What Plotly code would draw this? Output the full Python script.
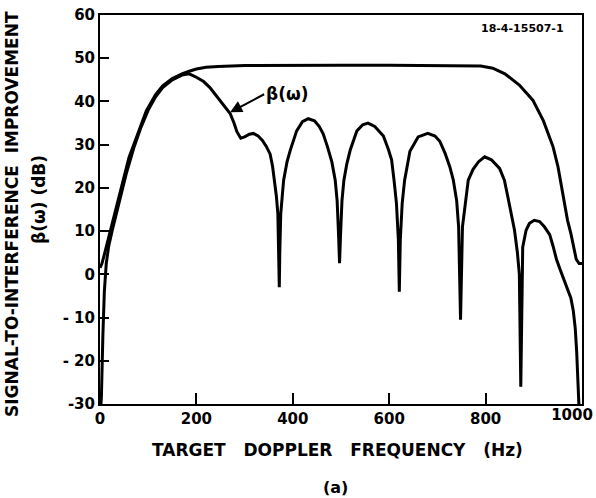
import plotly.graph_objects as go

# beta(omega) curve (Hz, dB)
freq_beta = [0, 3, 6, 9, 13, 18, 25, 33, 40, 55, 70, 85, 100, 115, 130, 150, 170, 185,
             200, 215, 228, 245, 260, 270, 278, 284, 292, 300, 310, 318, 328, 337, 345,
             353, 358, 362, 366, 369, 371, 372, 373, 375, 378, 381, 388, 395, 408, 420,
             432, 445, 455, 463, 472, 481, 488, 492, 495, 497, 499, 502, 506, 512, 519,
             533, 545, 556, 570, 588, 598, 605, 610, 615, 619, 621, 623, 627, 632, 643,
             660, 680, 695, 705, 716, 726, 733, 740, 744, 748, 752, 757, 764, 774, 785,
             798, 812, 829, 839, 846, 853, 860, 866, 870, 873, 875, 877, 884, 891, 901,
             912, 922, 933, 940, 947, 955, 962, 970, 977, 982, 986, 989, 992, 995]
beta_db = [-34, -28, -14, -4, 2.5, 6.5, 10, 13.5, 17, 23.5, 29.2, 34, 38, 41, 43.2, 45, 46.1, 46.4,
           45.6, 44.6, 43.2, 40.8, 38.6, 37.2, 35, 33, 31.5, 31.8, 32.4, 32.6, 32.0, 31, 29.6,
           27.8, 25, 21.8, 18, 14, 5, -3, 5, 14, 18, 21.8, 26, 28.8, 33.2, 35.3,
           36, 35.5, 34.2, 32.5, 29.5, 26, 21.8, 17, 9, 2.6, 9, 17, 21.8, 25.5, 28.7,
           33.2, 34.6, 35, 34.2, 32, 29, 26.5, 21.8, 16.5, 8, -4, 8, 16.5, 21.8, 28.5,
           31.8, 32.6, 32, 30.8, 28, 24.8, 21.8, 17, 11, -10.5, 11, 15, 21.8, 24.3, 26,
           27.2, 26.5, 24.5, 21.8, 18, 14, 10.2, 5, 0, -26, -3, 6.3, 10.2, 11.8, 12.5,
           12.2, 11, 9.2, 6.5, 3.5, 1, -1, -3.2, -5.5, -8.5, -12.5, -18, -26, -34]

# upper (optimum) curve (Hz, dB)
freq_env = [0, 4, 10, 20, 30, 38, 50, 60, 70, 85, 96, 115, 130, 150, 170, 185, 200, 220, 245,
            300, 400, 500, 600, 700, 790, 815, 840, 870, 898, 920, 940, 950, 960, 970, 977,
            983, 988, 994, 1000]
env_db = [1.5, 2.5, 5, 9.5, 13.5, 17.1, 23, 27, 30, 34.5, 37.8, 41.5, 43.6, 45.3, 46.4, 47, 47.5,
          47.9, 48.1, 48.3, 48.4, 48.4, 48.4, 48.3, 48.2, 47.7, 46.4, 43.8, 40.3, 35.5, 29.5,
          25, 19, 12.5, 9.4, 6, 3.5, 2.5, 2.5]

x_ticks = [0, 200, 400, 600, 800]
x_tick_text = ["0", "200", "400", "600", "800"]
x_end_tick = [1000]
x_end_text = ["1000"]
y_ticks = [-30, -20, -10, 0, 10, 20, 30, 40, 50, 60]
y_tick_text = ["-30", "- 20", "- 10", "0", "10", "20", "30", "40", "50", "60"]

FONT = "DejaVu Sans"
TICKFONT = dict(family=FONT, size=15, weight="bold", color="black")

fig = go.Figure()
fig.add_trace(go.Scatter(x=freq_env, y=env_db, mode="lines",
                         line=dict(color="black", width=3), showlegend=False))
fig.add_trace(go.Scatter(x=freq_beta, y=beta_db, mode="lines",
                         line=dict(color="black", width=3), showlegend=False))
# empty trace so the secondary x axis (end label) is drawn
fig.add_trace(go.Scatter(x=[], y=[], xaxis="x2", yaxis="y", showlegend=False,
                         hoverinfo="skip"))

L, R, T, B = 100, 14, 15, 94
W, H = 596, 498
pw, ph = W - L - R, H - T - B


def px(xp):
    return (xp - L) / pw


def py(yp):
    return (H - B - yp) / ph


annots = [
    dict(text="SIGNAL-TO-INTERFERENCE  IMPROVEMENT", x=px(12), y=py(214), textangle=-90,
         font=dict(family=FONT, size=17, weight="bold", color="black")),
    dict(text="β(ω) (dB)", x=px(39), y=py(200), textangle=-90,
         font=dict(family=FONT, size=17, weight="bold", color="black")),
    dict(text="TARGET\u00a0\u00a0 DOPPLER\u00a0\u00a0 FREQUENCY\u00a0\u00a0 (Hz)", x=px(337), y=py(450),
         font=dict(family=FONT, size=17, weight="bold", color="black")),
    dict(text="(a)", x=px(335), y=py(487),
         font=dict(family=FONT, size=16, weight="bold", color="black")),
    dict(text="18-4-15507-1", x=px(522), y=py(28),
         font=dict(family=FONT, size=11, weight="bold", color="black")),
]
for a in annots:
    a.update(xref="paper", yref="paper", showarrow=False, xanchor="center", yanchor="middle")

annots.append(dict(text="β(ω)", x=270, y=37.5, xref="x", yref="y",
                   ax=34, ay=-18, showarrow=True, arrowhead=2, arrowsize=1.2,
                   arrowwidth=2, arrowcolor="black", xanchor="left",
                   font=dict(family=FONT, size=17, weight="bold", color="black")))

fig.update_layout(
    width=W, height=H,
    margin=dict(l=L, r=R, t=T, b=B, autoexpand=False),
    paper_bgcolor="white", plot_bgcolor="white",
    showlegend=False,
    annotations=annots,
    xaxis=dict(range=[0, 1000], tickvals=x_ticks, ticktext=x_tick_text,
               showgrid=False, zeroline=False, showline=True, linecolor="black",
               linewidth=2, mirror=True, ticks="inside", ticklen=11, tickwidth=2,
               tickcolor="black", automargin=False, tickfont=TICKFONT),
    xaxis2=dict(range=[0, 1000], overlaying="x", anchor="y", side="bottom",
                tickvals=x_end_tick, ticktext=x_end_text, ticklabelshift=-10,
                showgrid=False, zeroline=False, showline=False, ticks="",
                automargin=False, tickfont=TICKFONT),
    yaxis=dict(range=[-30, 60], tickvals=y_ticks, ticktext=y_tick_text,
               showgrid=False, zeroline=False, showline=True, linecolor="black",
               linewidth=2, mirror=True, ticks="inside", ticklen=9, tickwidth=2,
               tickcolor="black", automargin=False, tickfont=TICKFONT),
)

fig.write_html("out.html")
